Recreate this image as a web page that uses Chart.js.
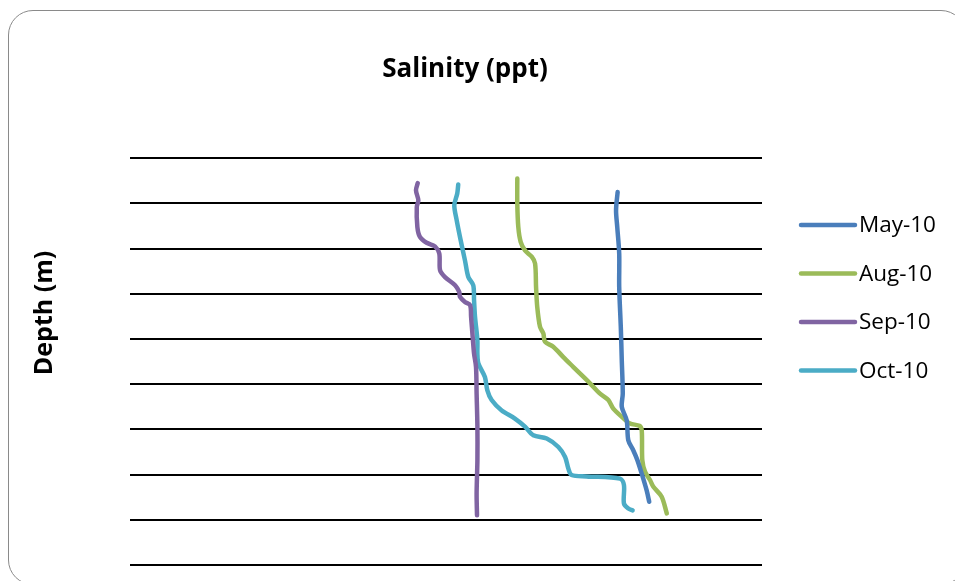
<!DOCTYPE html>
<html>
<head>
<meta charset="utf-8">
<script src="https://cdn.jsdelivr.net/npm/chart.js@4/dist/chart.umd.min.js"></script>
<style>
  html, body { margin: 0; padding: 0; background: #fff; overflow: hidden; }
  #wrap { position: relative; width: 955px; height: 581px; }
  #frame { position: absolute; left: 8px; top: 10px; width: 958px; height: 575px;
           border: 1.5px solid #8a8a8a; border-radius: 25px; box-sizing: border-box; pointer-events: none; }
  canvas { position: absolute; left: 0; top: 0; }
</style>
</head>
<body>
<div id="wrap">
  <canvas id="c" width="955" height="581"></canvas>
  <div id="frame"></div>
</div>
<script>
// ---- Data ----
const seriesLabels = ["May-10", "Aug-10", "Sep-10", "Oct-10"];
const seriesColors = ["#4A7EBB", "#9BBB59", "#8064A2", "#4BACC6"];

const maySalinity = [24.69, 24.61, 24.67, 24.77, 24.77, 24.85, 24.90, 24.95, 24.90, 25.15, 25.23, 25.48, 25.69, 25.91, 26.16, 26.29];
const mayDepth    = [0.75, 1.15, 1.52, 2.11, 2.85, 3.73, 4.47, 5.21, 5.50, 5.80, 6.24, 6.46, 6.68, 6.98, 7.35, 7.60];

const augSalinity = [19.61, 19.61, 19.66, 19.78, 20.00, 20.34, 20.51, 20.56, 20.62, 20.76, 20.93, 21.01, 21.43, 21.94, 22.45, 22.87, 23.29, 23.80, 24.22, 24.47, 24.90, 25.32, 25.79, 25.91, 25.94, 26.08, 26.33, 26.50, 26.92, 27.18];
const augDepth    = [0.45, 1.00, 1.52, 1.85, 2.04, 2.18, 2.33, 2.85, 3.29, 3.73, 3.88, 4.06, 4.17, 4.40, 4.62, 4.80, 4.98, 5.21, 5.35, 5.54, 5.72, 5.87, 5.92, 6.02, 6.68, 6.94, 7.12, 7.27, 7.49, 7.86];

const sepSalinity = [14.57, 14.48, 14.60, 14.52, 14.55, 14.68, 15.02, 15.44, 15.66, 15.70, 15.95, 16.46, 16.67, 16.71, 16.96, 17.22, 17.27, 17.35, 17.42, 17.52, 17.55, 17.59, 17.59, 17.55, 17.57];
const sepDepth    = [0.55, 0.71, 0.93, 1.08, 1.52, 1.74, 1.87, 1.95, 2.11, 2.48, 2.63, 2.81, 2.96, 3.07, 3.18, 3.25, 3.51, 3.95, 4.32, 4.62, 5.21, 5.94, 6.68, 7.42, 7.90];

const octSalinity = [16.62, 16.57, 16.42, 16.54, 16.74, 16.96, 17.13, 17.38, 17.42, 17.47, 17.59, 17.59, 17.64, 17.97, 18.09, 18.31, 18.82, 19.49, 20.00, 20.42, 21.10, 21.69, 22.03, 22.19, 22.36, 23.12, 24.81, 25.01, 25.01, 25.23, 25.45];
const octDepth    = [0.58, 0.78, 1.04, 1.37, 1.81, 2.26, 2.63, 2.81, 3.14, 3.51, 4.03, 4.32, 4.54, 4.84, 5.13, 5.35, 5.58, 5.76, 5.94, 6.13, 6.20, 6.39, 6.61, 6.86, 7.01, 7.04, 7.09, 7.23, 7.64, 7.75, 7.79];

const depthMin = 0, depthMax = 9, depthStep = 1;
const salinityMin = 0, salinityMax = 32;

const chartTitle = "Salinity (ppt)";
const depthTitle = "Depth (m)";

// ---- Build ----
function toPoints(sal, dep) { return sal.map((s, i) => ({ x: s, y: dep[i] })); }
const allSal = [maySalinity, augSalinity, sepSalinity, octSalinity];
const allDep = [mayDepth, augDepth, sepDepth, octDepth];

const datasets = seriesLabels.map((lab, i) => ({
  label: lab,
  data: toPoints(allSal[i], allDep[i]),
  borderColor: seriesColors[i],
  backgroundColor: seriesColors[i],
  borderWidth: 4.5,
  showLine: true,
  pointRadius: 0,
  pointHoverRadius: 0,
  tension: 0.3,
  borderCapStyle: 'round',
  borderJoinStyle: 'round',
  yAxisID: 'y'
}));

// Side legend and rotated axis title drawn at fixed spots, text/colours taken from the chart config
const sidePlugin = {
  id: 'sideText',
  afterDraw(chart, args, opts) {
    const ctx = chart.ctx;
    ctx.save();
    chart.data.datasets.forEach((ds, i) => {
      const y = opts.legendTop + i * opts.legendSpacing;
      ctx.strokeStyle = ds.borderColor;
      ctx.lineWidth = 4.5;
      ctx.lineCap = 'round';
      ctx.beginPath();
      ctx.moveTo(opts.lineX0, y);
      ctx.lineTo(opts.lineX1, y);
      ctx.stroke();
      ctx.fillStyle = '#000';
      ctx.font = opts.legendFont;
      ctx.textBaseline = 'middle';
      ctx.textAlign = 'left';
      ctx.fillText(ds.label, opts.textX, y + 1);
    });
    // y-axis title
    ctx.translate(opts.yTitleX, opts.yTitleY);
    ctx.rotate(-Math.PI / 2);
    ctx.font = opts.yTitleFont;
    ctx.fillStyle = '#000';
    ctx.textAlign = 'center';
    ctx.textBaseline = 'middle';
    ctx.fillText(opts.yTitle, 0, 0);
    ctx.restore();
  }
};

new Chart(document.getElementById('c'), {
  type: 'scatter',
  data: { datasets },
  plugins: [sidePlugin],
  options: {
    responsive: false,
    animation: false,
    events: [],
    layout: { padding: { left: 10, right: 35, top: 0, bottom: 16 } },
    plugins: {
      legend: { display: false },
      tooltip: { enabled: false },
      title: {
        display: true,
        text: chartTitle,
        color: '#000',
        font: { family: "'Open Sans', sans-serif", size: 26, weight: 'bold' },
        padding: { top: 54, bottom: 73 }
      },
      sideText: {
        legendTop: 225, legendSpacing: 48.5, lineX0: 801, lineX1: 855, textX: 859,
        legendFont: "22.5px 'Open Sans', sans-serif",
        yTitle: depthTitle, yTitleX: 45, yTitleY: 313,
        yTitleFont: "bold 25px 'Open Sans', sans-serif"
      }
    },
    scales: {
      x: { type: 'linear', min: salinityMin, max: salinityMax, display: false },
      y: {
        type: 'linear', position: 'left', reverse: true,
        min: depthMin, max: depthMax,
        ticks: { display: false, stepSize: depthStep },
        grid: { color: '#000', lineWidth: 2, drawTicks: false },
        border: { display: false },
        afterFit(scale) { scale.width = 120; }
      },
      yRight: {
        type: 'linear', position: 'right', min: 0, max: 1,
        ticks: { display: false }, grid: { display: false }, border: { display: false },
        afterFit(scale) { scale.width = 158; }
      }
    }
  }
});
</script>
</body>
</html>
